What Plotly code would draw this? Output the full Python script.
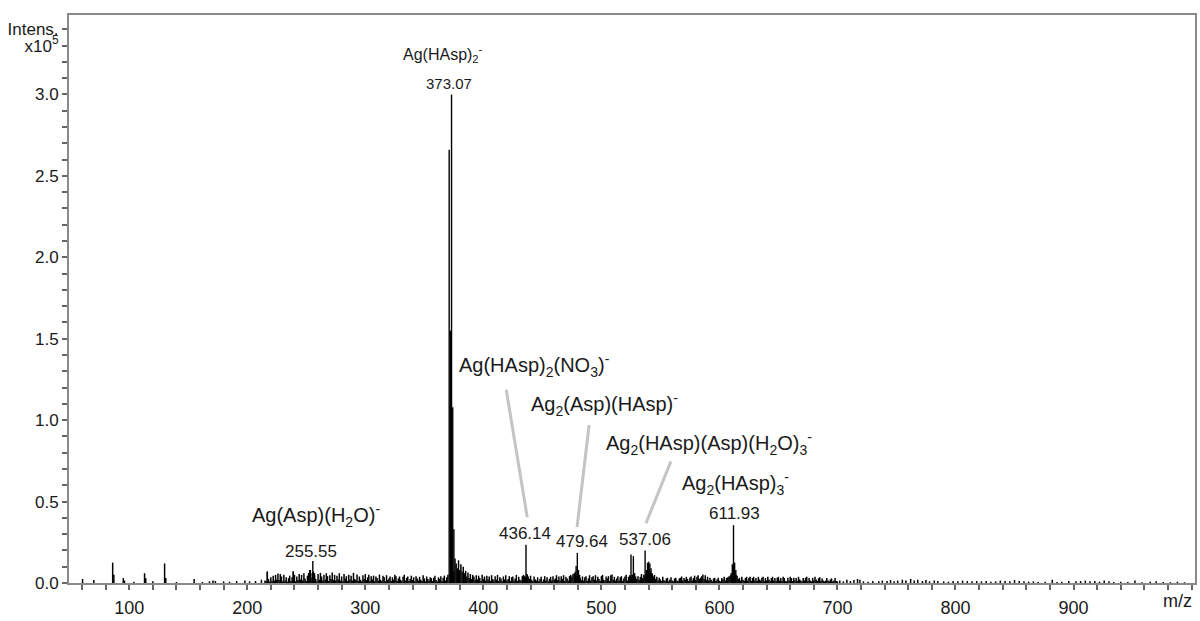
import plotly.graph_objects as go

# ---------------- data (intensity in units of 1e5 counts) ----------------
# low-mass sparse peaks
low_mz = [60.5, 70, 86, 87, 95, 96, 104, 113, 114, 120, 130, 131, 140, 155, 162,
          168, 171, 173, 180, 185, 191, 198, 202, 207, 212, 215]
low_int = [0.025, 0.018, 0.125, 0.05, 0.03, 0.015, 0.008, 0.06, 0.03, 0.01, 0.12, 0.03,
           0.006, 0.025, 0.006, 0.01, 0.015, 0.012, 0.01, 0.008, 0.012, 0.015, 0.01,
           0.012, 0.02, 0.015]

# dense background, one value per m/z unit, 216..370 (x0.001)
noise_a_start = 216
noise_a = [10, 70, 25, 8, 35, 12, 45, 15, 50, 20,
           58, 18, 55, 40, 10, 50, 15, 35, 8, 30,
           45, 12, 35, 72, 50, 10, 40, 18, 55, 22,
           50, 15, 60, 28, 12, 45, 62, 80, 30, 60,
           70, 45, 25, 10, 55, 20, 62, 40, 15, 50,
           20, 60, 42, 12, 48, 25, 65, 18, 50, 15,
           45, 22, 60, 15, 40, 10, 55, 28, 42, 12,
           50, 20, 45, 15, 62, 25, 18, 52, 12, 40,
           20, 10, 48, 25, 55, 18, 35, 50, 12, 42,
           22, 45, 10, 40, 30, 15, 52, 20, 12, 45,
           35, 10, 48, 18, 28, 40, 12, 35, 20, 50,
           42, 12, 28, 40, 20, 10, 38, 50, 15, 32,
           40, 12, 25, 45, 18, 35, 10, 42, 28, 15,
           38, 20, 12, 48, 28, 10, 40, 25, 15, 35,
           30, 12, 32, 45, 18, 10, 35, 25, 42, 12,
           32, 45, 15, 35, 50]

# dense background, 375..700 (x0.001)
noise_b_start = 375
noise_b = [70, 150, 120, 90, 140, 80, 115, 70, 100, 60,
           75, 40, 65, 30, 55, 25, 50, 40, 20, 48,
           22, 45, 30, 12, 50, 25, 40, 15, 45, 22,
           40, 12, 48, 25, 15, 42, 20, 50, 12, 35,
           28, 10, 40, 22, 48, 15, 25, 42, 12, 35,
           40, 15, 28, 50, 12, 38, 20, 15, 42, 50,
           40, 30, 55, 40, 25, 45, 20, 12, 40, 22,
           15, 35, 10, 25, 38, 8, 22, 42, 15, 35,
           10, 25, 38, 15, 42, 20, 28, 48, 18, 40,
           15, 42, 25, 48, 12, 38, 28, 15, 42, 50,
           40, 55, 60, 70, 40, 60, 40, 30, 18, 40,
           15, 35, 42, 12, 28, 48, 15, 35, 42, 20,
           48, 15, 38, 25, 12, 42, 50, 20, 15, 40,
           28, 42, 12, 48, 52, 20, 38, 15, 28, 42,
           15, 35, 42, 12, 28, 40, 50, 15, 38, 48,
           40, 50, 45, 60, 40, 25, 42, 20, 38, 55,
           30, 50, 40, 60, 70, 75, 70, 60, 50, 40,
           50, 25, 38, 15, 32, 22, 12, 38, 18, 10,
           28, 32, 10, 22, 35, 15, 10, 28, 32, 15,
           12, 28, 32, 40, 15, 30, 20, 38, 25, 12,
           32, 40, 15, 30, 45, 20, 38, 48, 25, 32,
           42, 52, 25, 48, 20, 38, 15, 32, 20, 10,
           28, 32, 12, 22, 32, 15, 10, 30, 22, 38,
           15, 30, 35, 40, 45, 50, 60, 70, 60, 50,
           45, 25, 32, 15, 38, 20, 12, 30, 38, 15,
           32, 38, 12, 30, 38, 15, 30, 12, 38, 22,
           15, 32, 38, 12, 30, 15, 38, 22, 12, 30,
           38, 15, 30, 12, 32, 38, 15, 30, 12, 38,
           30, 12, 10, 32, 15, 38, 30, 12, 32, 15,
           30, 12, 38, 22, 15, 10, 30, 15, 32, 38,
           12, 30, 15, 10, 32, 15, 38, 22, 12, 30,
           35, 12, 28, 15, 10, 15, 30, 15, 10, 22,
           28, 10, 15, 30, 12, 10]

# high-mass sparse peaks
high_mz = [702, 705, 708, 711, 714, 717, 719, 722, 726, 730, 735, 738, 742, 745, 748,
           751, 755, 758, 762, 765, 768, 772, 775, 778, 782, 785, 790, 794, 798, 802,
           806, 810, 814, 818, 822, 826, 830, 834, 838, 842, 846, 850, 854, 858, 862,
           866, 870, 876, 882, 886, 890, 896, 902, 906, 910, 914, 918, 922, 926, 930,
           934, 940, 946, 952, 958, 965, 970, 976, 982, 988, 994]
high_int = [0.015, 0.010, 0.020, 0.012, 0.018, 0.025, 0.020, 0.010, 0.008, 0.012,
            0.010, 0.015, 0.012, 0.018, 0.010, 0.015, 0.020, 0.015, 0.025, 0.015,
            0.020, 0.012, 0.018, 0.010, 0.015, 0.012, 0.010, 0.008, 0.012, 0.010,
            0.015, 0.012, 0.010, 0.012, 0.010, 0.012, 0.008, 0.010, 0.015, 0.012,
            0.010, 0.018, 0.012, 0.010, 0.008, 0.010, 0.006, 0.008, 0.020, 0.006,
            0.008, 0.012, 0.010, 0.012, 0.015, 0.010, 0.012, 0.008, 0.015, 0.010,
            0.006, 0.008, 0.006, 0.015, 0.005, 0.008, 0.010, 0.006, 0.005, 0.008,
            0.005]

# main peaks and their isotope neighbours
main_mz = [217.0, 239.0, 253.5, 255.55, 257.0,
           371.07, 372.07, 373.07, 374.07, 375.07,
           435.1, 436.14, 437.1,
           478.6, 479.64, 480.6, 481.6,
           525.1, 526.1, 527.1, 528.1,
           537.06, 538.1, 539.1, 540.1, 541.1, 542.1, 543.1,
           609.9, 610.9, 611.93, 612.9, 613.9]
main_int = [0.07, 0.07, 0.08, 0.135, 0.06,
            2.66, 1.55, 3.00, 1.08, 0.33,
            0.04, 0.235, 0.05,
            0.105, 0.185, 0.08, 0.05,
            0.175, 0.05, 0.165, 0.06,
            0.20, 0.08, 0.125, 0.13, 0.12, 0.09, 0.06,
            0.06, 0.115, 0.355, 0.125, 0.08]

# peak labels: (m/z position, y position, text, font size)
mass_labels = [
    (371.2, 3.066, "373.07", 15),
    (253.7, 0.193, "255.55", 17),
    (435.5, 0.307, "436.14", 17),
    (483.7, 0.253, "479.64", 17),
    (537.0, 0.265, "537.06", 17),
    (613.1, 0.428, "611.93", 17),
]
ion_labels = [
    (366.1, 3.247, "Ag(HAsp)<sub>2</sub><sup>-</sup>", 16),
    (257.9, 0.416, "Ag(Asp)(H<sub>2</sub>O)<sup>-</sup>", 20),
    (443.1, 1.337, "Ag(HAsp)<sub>2</sub>(NO<sub>3</sub>)<sup>-</sup>", 20),
    (502.3, 1.096, "Ag<sub>2</sub>(Asp)(HAsp)<sup>-</sup>", 20),
    (591.1, 0.855, "Ag<sub>2</sub>(HAsp)(Asp)(H<sub>2</sub>O)<sub>3</sub><sup>-</sup>", 20),
    (613.9, 0.614, "Ag<sub>2</sub>(HAsp)<sub>3</sub><sup>-</sup>", 20),
]
# leader lines: (x0, y0, x1, y1)
leaders = [
    (419.4, 1.187, 437.2, 0.404),
    (489.6, 0.970, 479.4, 0.343),
    (558.9, 0.747, 537.8, 0.367),
]

x_tick_vals = list(range(60, 1001, 20))
x_tick_text = [str(v) if v % 100 == 0 and v < 1000 else "" for v in x_tick_vals]
y_tick_vals = [round(i * 0.1, 1) for i in range(0, 35)]
y_tick_text = []
for v in y_tick_vals:
    if abs(v - 3.4) < 1e-9:
        y_tick_text.append("Intens.")
    elif abs(v - 3.3) < 1e-9:
        y_tick_text.append("x10<sup>5</sup>")
    elif round(v * 10) % 5 == 0:
        y_tick_text.append(f"{v:.1f}")
    else:
        y_tick_text.append("")

# ---------------- build sticks ----------------
def sticks(mz, inten):
    xs, ys = [], []
    for m, v in zip(mz, inten):
        xs += [m, m, None]
        ys += [0, v, None]
    return xs, ys

bg_mz = list(low_mz)
bg_int = list(low_int)
for i, v in enumerate(noise_a):
    bg_mz.append(noise_a_start + i)
    bg_int.append(v / 1000)
for i, v in enumerate(noise_b):
    bg_mz.append(noise_b_start + i)
    bg_int.append(v / 1000)
bg_mz += high_mz
bg_int += high_int

fig = go.Figure()
bx, by = sticks(bg_mz, bg_int)
fig.add_trace(go.Scatter(x=bx, y=by, mode="lines", line=dict(color="black", width=1.5),
                         hoverinfo="skip", showlegend=False))
mx, my = sticks(main_mz, main_int)
fig.add_trace(go.Scatter(x=mx, y=my, mode="lines", line=dict(color="black", width=1.4),
                         hoverinfo="skip", showlegend=False))

font_family = "Liberation Sans, Arial, sans-serif"
txt_color = "#1a1a1a"

for x, y, t, s in mass_labels + ion_labels:
    fig.add_annotation(x=x, y=y, text=t, showarrow=False, xref="x", yref="y",
                       font=dict(family=font_family, size=s, color=txt_color),
                       xanchor="center", yanchor="middle")

for x0, y0, x1, y1 in leaders:
    fig.add_shape(type="line", x0=x0, y0=y0, x1=x1, y1=y1, xref="x", yref="y",
                  line=dict(color="#c4c4c4", width=3))

fig.add_annotation(x=1.0, y=0, xref="paper", yref="paper", text="m/z", showarrow=False,
                   xanchor="right", yanchor="top", yshift=-6, xshift=-1,
                   font=dict(family=font_family, size=18, color=txt_color))

fig.update_layout(
    width=1200, height=621,
    margin=dict(l=69, r=3, t=15, b=27),
    plot_bgcolor="white", paper_bgcolor="white",
    font=dict(family=font_family, size=18, color=txt_color),
    xaxis=dict(range=[49, 1002.9], tickmode="array", tickvals=x_tick_vals,
               ticktext=x_tick_text, ticks="outside", ticklen=5, tickwidth=1.5,
               tickcolor="#666", showline=True, linecolor="#8a8a8a", linewidth=2,
               mirror=True, showgrid=False, zeroline=False,
               tickfont=dict(size=18), ticklabelstandoff=2),
    yaxis=dict(range=[0, 3.488], tickmode="array", tickvals=y_tick_vals,
               ticktext=y_tick_text, ticks="outside", ticklen=5, tickwidth=1.5,
               tickcolor="#666", showline=True, linecolor="#8a8a8a", linewidth=2,
               mirror=True, showgrid=False, zeroline=True, zerolinecolor="black",
               zerolinewidth=1.5, tickfont=dict(size=17)),
)

fig.write_html("out.html", config={"displayModeBar": False},
               post_script="document.body.style.margin='0';document.body.style.overflow='hidden';")
